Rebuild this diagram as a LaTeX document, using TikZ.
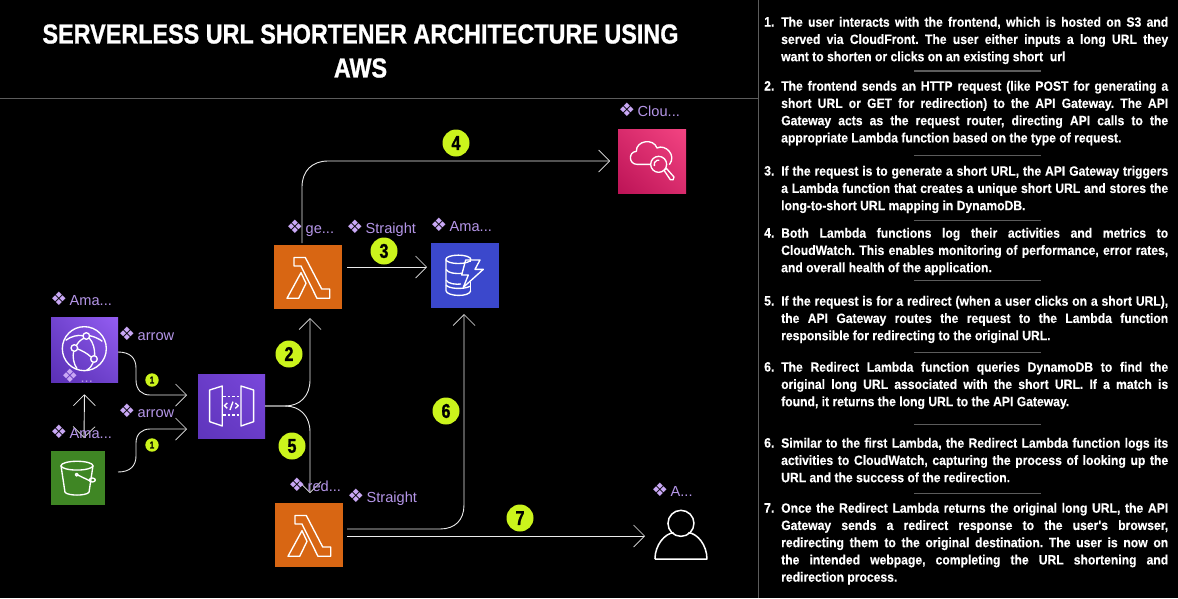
\documentclass[tikz,border=0pt]{standalone}
\usepackage{fontspec}
\usetikzlibrary{arrows.meta,calc,shadings}
\setmainfont{Liberation Sans}
\newfontfamily\bodyf[FakeStretch=.90,FakeBold=.25]{Liberation Sans}
\newfontfamily\titlef[FakeStretch=.85,FakeBold=.9]{Liberation Sans}
\newfontfamily\badgef[FakeStretch=.80,FakeBold=1.2]{Liberation Sans}
\newfontfamily\dvf{DejaVu Sans}
\definecolor{badge}{HTML}{CBF41C}
\definecolor{labc}{HTML}{B596E8}
\definecolor{diac}{HTML}{C9A8F5}
\definecolor{rulec}{HTML}{5C5C5C}
\definecolor{lam}{HTML}{D86613}
\definecolor{cfa}{HTML}{945DF2}
\definecolor{cfb}{HTML}{5A30B5}
\definecolor{cfc}{HTML}{7144CF}
\definecolor{apa}{HTML}{7A48DC}
\definecolor{apb}{HTML}{5F35BC}
\definecolor{apc}{HTML}{6A3CC8}
\definecolor{cwa}{HTML}{F34482}
\definecolor{cwb}{HTML}{BC1356}
\definecolor{cwc}{HTML}{D82B6C}
\definecolor{sthree}{HTML}{3F8624}
\definecolor{dyn}{HTML}{3B48CC}
\tikzset{
  conn/.style={draw=white!92!black,line width=.9pt,-{Straight Barb[length=11pt,width=22pt,line width=.7pt]}},
  connboth/.style={draw=white!92!black,line width=.9pt,{Straight Barb[length=11pt,width=22pt,line width=.7pt]}-{Straight Barb[length=11pt,width=22pt,line width=.7pt]}},
  iconbox/.style n args={2}{rectangle,inner sep=0pt,outer sep=0pt,minimum width=#1,minimum height=#2},
  ico/.style={draw=white,line width=1.35pt,line join=round,fill=none},
  lab/.style={anchor=base west,inner sep=0pt,text=labc,font=\fontsize{14.6}{16}\selectfont},
  bigbadge/.style={circle,fill=badge,text=black,inner sep=0pt,minimum size=27pt,font=\badgef\bfseries\fontsize{20}{20}\selectfont},
  smallbadge/.style={circle,fill=badge,text=black,inner sep=0pt,minimum size=13.4pt,font=\badgef\bfseries\fontsize{10}{10}\selectfont},
  itemtext/.style={anchor=north west,inner sep=0pt,text=white,text width=387pt,align=justify,font=\bodyf\bfseries\fontsize{13.5}{17.25}\selectfont},
  itemnum/.style={anchor=base west,inner sep=0pt,text=white,font=\bodyf\bfseries\fontsize{13.5}{17.25}\selectfont},
  titletext/.style={text=white,inner sep=0pt,font=\titlef\bfseries\fontsize{27.5}{33}\selectfont},
  seprule/.style={draw=rulec,line width=.8pt},
  framerule/.style={draw=rulec,line width=.9pt}
}
\newcommand{\lbl}[4]{\node[lab] (#1) at (#2-1.2,#3) {{\dvf\color{diac}\fontsize{18.5}{16}\selectfont\raisebox{-.8pt}{❖}}\hspace{2.6pt}#4};}
\newcommand{\itm}[4]{%
  \node[itemnum] (n#1) at (764,#3+4.5) {#2};
  \node[itemtext] (t#1) at (781,#3-7.5) {\frenchspacing\tolerance=10000\hyphenpenalty=10000\rule{0pt}{12pt}#4};}
\newcommand{\jb}{\linebreak[4]}
\newcommand{\lamicon}[1]{%
  \begin{scope}[shift={(#1)}]
    \draw[ico] (20,12.5) -- (31.3,12.5) -- (47.7,44) -- (55.7,44) -- (55.7,53.3) -- (43,53.3) -- (27,21) -- (20,21) -- cycle;
    \draw[ico] (13,53.3) -- (27,27.7) -- (32,38.3) -- (24.7,53.3) -- cycle;
  \end{scope}}
\begin{document}
\begin{tikzpicture}[x=1pt,y=-1pt]
\fill[black] (0,0) rectangle (1178,598);
\useasboundingbox (0,0) rectangle (1178,598);

% frame lines
\draw[framerule] (0,98.5) -- (758,98.5);
\draw[framerule] (758.5,0) -- (758.5,598);

% title
\node[titletext] (title1) at (360.5,34) {SERVERLESS URL SHORTENER ARCHITECTURE USING};
\node[titletext] (title2) at (360.5,68) {AWS};

% service boxes
\node[iconbox={67pt}{64.5pt},shade,upper right=cfa,lower left=cfb,upper left=cfc,lower right=cfc] (cf) at (84.5,350) {};
\node[iconbox={54pt}{54pt},fill=sthree] (s3) at (78,478) {};
\node[iconbox={67pt}{64pt},shade,upper right=apa,lower left=apb,upper left=apc,lower right=apc] (api) at (231.5,406) {};
\node[iconbox={68pt}{64pt},fill=lam] (lg) at (308,277) {};
\node[iconbox={68pt}{64pt},fill=lam] (lr) at (309,535) {};
\node[iconbox={68pt}{65pt},fill=dyn] (dy) at (465,275.5) {};
\node[iconbox={68pt}{64pt},shade,upper right=cwa,lower left=cwb,upper left=cwc,lower right=cwc] (cw) at (652,161) {};
\node[iconbox={54pt}{52pt}] (user) at (681,535) {};

% CloudFront icon (zoom coordinates)
\begin{scope}[shift={(45,312)},x=.3333pt,y=-.3333pt]
  \draw[ico] (118,110) circle[radius=22pt];
  \draw[ico] (124,72) circle[radius=3.3pt];
  \draw[ico] (88,108) circle[radius=3.3pt];
  \draw[ico] (147,141) circle[radius=3.3pt];
  \draw[ico] (116,79) .. controls (106,84) and (98,92) .. (94,100);
  \draw[ico] (98,111) .. controls (112,116) and (128,125) .. (138,135);
  \draw[ico] (132,77) .. controls (145,92) and (150,112) .. (149,131);
  \draw[ico] (86,118) .. controls (82,135) and (86,155) .. (96,170);
  \draw[ico] (145,151) .. controls (142,160) and (135,168) .. (125,175);
  \draw[ico] (62,85) .. controls (78,73) and (98,68) .. (114,71);
  \draw[ico] (134,71) .. controls (148,74) and (162,80) .. (172,88);
\end{scope}

% S3 icon
\begin{scope}[shift={(45,385)},x=.3333pt,y=-.3333pt]
  \draw[ico] (96,242) circle[x radius=16pt,y radius=4.4pt];
  \draw[ico] (48,242) -- (60,322) .. controls (70,333) and (122,333) .. (132,322) -- (144,242);
  \draw[ico] (96,269) -- (140,290);
  \draw[ico] (95,269) circle[radius=1.4pt];
  \draw[ico] (142,285) circle[x radius=3pt,y radius=2pt];
\end{scope}

% API Gateway icon
\begin{scope}[shift={(30,280)},x=.3333pt,y=-.3333pt]
  \draw[ico] (539,330) -- (577,318) -- (577,438) -- (539,425) -- cycle;
  \draw[ico] (633,318) -- (671,330) -- (671,425) -- (633,438) -- cycle;
  \draw[ico,dash pattern=on 2.4pt off 2pt] (580,350) -- (631,350);
  \draw[ico,dash pattern=on 2.4pt off 2pt] (580,405) -- (631,405);
  \draw[ico] (592,369) -- (583,377) -- (592,385);
  \draw[ico] (609,365) -- (600,390);
  \draw[ico] (616,369) -- (625,377) -- (616,385);
\end{scope}

% Lambda icons
\lamicon{lg.north west}
\lamicon{lr.north west}

% DynamoDB icon
\begin{scope}[shift={(425,240)},x=.3333pt,y=-.3333pt]
  \draw[ico] (100,58) circle[x radius=12.5pt,y radius=4.2pt];
  \draw[ico] (63,58) -- (63,152) .. controls (65,170) and (135,172) .. (137,152);
  \draw[ico] (137,58) -- (137,66);
  \draw[ico] (63,88) .. controls (68,100) and (95,102) .. (112,100);
  \draw[ico] (63,120) .. controls (68,132) and (95,134) .. (108,132);
  \draw[ico] (63,135) .. controls (70,146) and (115,150) .. (137,138);
  \draw[ico] (137,125) -- (137,152);
  \draw[ico] (122,60) -- (165,60) -- (150,88) -- (175,88) -- (115,142) -- (130,105) -- (110,105) -- cycle;
\end{scope}

% CloudWatch icon
\begin{scope}[shift={(612,122)},x=.3333pt,y=-.3333pt]
  \draw[ico] (117,127) -- (75,127) .. controls (50,127) and (48,90) .. (73,88) .. controls (72,55) and (125,48) .. (135,78) .. controls (160,65) and (195,100) .. (172,128);
  \draw[ico] (140,127) circle[radius=8pt];
  \draw[ico] (127,132) arc[start angle=200,end angle=80,radius=4.4pt];
  \draw[ico] (156,145) -- (163,139) -- (186,165) .. controls (188,172) and (180,178) .. (175,173) -- cycle;
\end{scope}

% User icon
\begin{scope}[shift={(280,470)},x=.3333pt,y=-.3333pt]
  \draw[ico,line width=1.5pt] (1203,160) circle[radius=13pt];
  \draw[ico,line width=1.5pt] (1125,267) .. controls (1125,225) and (1155,190) .. (1181,188) (1225,188) .. controls (1252,190) and (1281,225) .. (1281,267) -- (1125,267);
\end{scope}

% connectors
\draw[conn] ([shift={(0,2)}]cf.east) .. controls (130,352) and (136,358) .. (136,368) -- (136,380) .. controls (136,390) and (142,395) .. (150,395) -- ([shift={(-11,-11)}]api.west);
\draw[conn] ([shift={(13,-6)}]s3.east) .. controls (130,472) and (136,466) .. (136,456) -- (136,443) .. controls (136,434) and (142,429) .. (150,429) -- ([shift={(-11,23)}]api.west);
\draw[connboth] ([shift={(6,-13)}]s3.north) -- ([shift={(0,12)}]cf.south);
\draw[conn] (api.east) -- (285,406) .. controls (300,406) and (310,396) .. (310,380) -- ([shift={(2,9)}]lg.south);
\draw[conn] (api.east) -- (285,406) .. controls (300,406) and (310,416) .. (310,432) -- ([shift={(1,-10)}]lr.north);
\draw[conn] ([shift={(-6,-2)}]lg.north) -- (302,187) .. controls (302,171) and (312,161) .. (328,161) -- ([shift={(-8,0)}]cw.west);
\draw[conn] ([shift={(5,-10)}]lg.east) -- ([shift={(-4,-8.5)}]dy.west);
\draw[conn] ([shift={(4,-6)}]lr.east) -- (440,529) .. controls (455,529) and (464,520) .. (464,505) -- ([shift={(-1,6)}]dy.south);
\draw[conn] ([shift={(4,1)}]lr.east) -- ([shift={(-9,1)}]user.west);

% labels
\lbl{lcf}{51.5}{305}{Ama...}
\lbl{la1}{119.5}{340}{arrow}
\lbl{ldot}{62.5}{382}{...}
\lbl{la2}{119.5}{417}{arrow}
\lbl{ls3}{51.5}{438}{Ama...}
\lbl{lred}{289.5}{491}{red...}
\lbl{lge}{287.5}{233}{ge...}
\lbl{lst1}{347.5}{233}{Straight}
\lbl{ldy}{431.5}{231}{Ama...}
\lbl{lcw}{619.5}{116}{Clou...}
\lbl{lst2}{348.5}{502}{Straight}
\lbl{lu}{652.5}{496}{A...}

% badges
\node[smallbadge] (b1a) at (152,380) {1};
\node[smallbadge] (b1b) at (152,445) {1};
\node[bigbadge] (b2) at (289,354) {2};
\node[bigbadge] (b3) at (384,251) {3};
\node[bigbadge] (b4) at (456,143) {4};
\node[bigbadge] (b5) at (292,446) {5};
\node[bigbadge] (b6) at (446,411) {6};
\node[bigbadge] (b7) at (520,518) {7};

% right-hand text
\itm{1}{1.}{22}{The user interacts with the frontend, which is hosted on S3 and\jb served via CloudFront. The user either inputs a long URL they\jb want to shorten or clicks on an existing short\ \ url}
\itm{2}{2.}{86}{The frontend sends an HTTP request (like POST for generating a\jb short URL or GET for redirection) to the API Gateway. The API\jb Gateway acts as the request router, directing API calls to the\jb appropriate Lambda function based on the type of request.}
\itm{3}{3.}{171}{If the request is to generate a short URL, the API Gateway triggers\jb a Lambda function that creates a unique short URL and stores the\jb long-to-short URL mapping in DynamoDB.}
\itm{4}{4.}{233}{Both Lambda functions log their activities and metrics to\jb CloudWatch. This enables monitoring of performance, error rates,\jb and overall health of the application.}
\itm{5}{5.}{301}{If the request is for a redirect (when a user clicks on a short URL),\jb the API Gateway routes the request to the Lambda function\jb responsible for redirecting to the original URL.}
\itm{6}{6.}{367}{The Redirect Lambda function queries DynamoDB to find the\jb original long URL associated with the short URL. If a match is\jb found, it returns the long URL to the API Gateway.}
\itm{6b}{6.}{443}{Similar to the first Lambda, the Redirect Lambda function logs its\jb activities to CloudWatch, capturing the process of looking up the\jb URL and the success of the redirection.}
\itm{7}{7.}{508}{Once the Redirect Lambda returns the original long URL, the API\jb Gateway sends a redirect response to the user's browser,\jb redirecting them to the original destination. The user is now on\jb the intended webpage, completing the URL shortening and\jb redirection process.}

% separators
\draw[seprule,line width=1.4pt] (914,71) -- (1041,71);
\draw[seprule] (914,155) -- (1041,155);
\draw[seprule] (914,220) -- (1041,220);
\draw[seprule] (914,280) -- (1041,280);
\draw[seprule] (914,352) -- (1041,352);
\draw[seprule] (914,424) -- (1041,424);
\draw[seprule] (914,493) -- (1041,493);
\end{tikzpicture}
\end{document}
